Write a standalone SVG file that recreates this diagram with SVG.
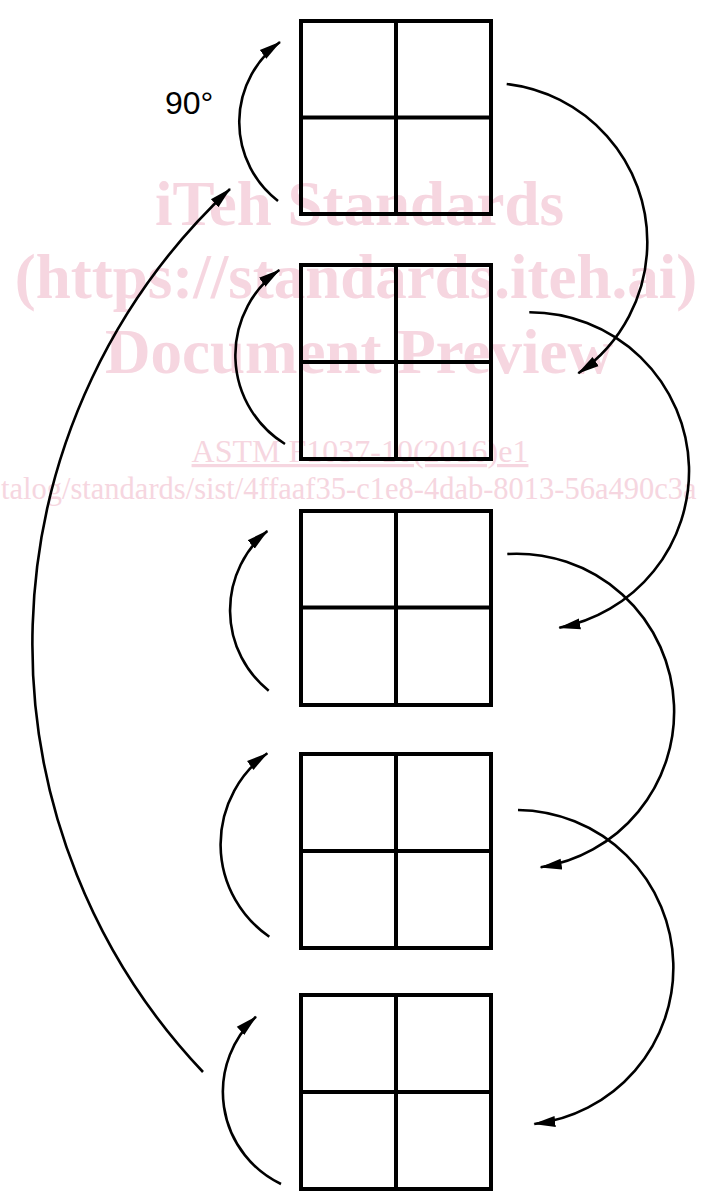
<svg xmlns="http://www.w3.org/2000/svg" width="703" height="1193" viewBox="0 0 703 1193">
<style>
.wm{fill:#f6d6e0;font-family:"Liberation Serif","Times New Roman",serif}
.wmb{font-weight:bold;font-size:63px}
.sq{fill:none;stroke:#000;stroke-width:4}
.cn{fill:none;stroke:#000;stroke-width:2.6}
.lbl{font-family:"Liberation Sans",Arial,sans-serif;font-size:32px;fill:#000}
</style>
<defs>
<marker id="ah" markerUnits="userSpaceOnUse" markerWidth="24" markerHeight="14" refX="21" refY="6" orient="auto" viewBox="0 0 24 12">
<path d="M0,0.5 L22,6 L0,11.5 z" fill="#000"/>
</marker>
</defs>
<rect width="703" height="1193" fill="#fff"/>
<g id="watermark">
<text class="wm wmb" x="359.5" y="225" text-anchor="middle">iTeh Standards</text>
<text class="wm wmb" x="356" y="298" text-anchor="middle">(https://standards.iteh.ai)</text>
<text class="wm wmb" x="359" y="373" text-anchor="middle">Document Preview</text>
<text class="wm" x="360" y="462" font-size="32" text-anchor="middle" text-decoration="underline">ASTM F1037-10(2016)e1</text>
<text class="wm" x="1" y="499" font-size="30.5">talog/standards/sist/4ffaaf35-c1e8-4dab-8013-56a490c3a</text>
</g>
<g id="sq1">
<rect class="sq" x="301" y="21" width="190" height="193"/>
<path class="sq" d="M396 21V214M301 117.5H491"/>
<text class="lbl" x="165" y="114">90°</text>
</g>
<g id="sq2">
<rect class="sq" x="301" y="265" width="190" height="194"/>
<path class="sq" d="M396 265V459M301 362H491"/>
</g>
<g id="sq3">
<rect class="sq" x="301" y="511" width="190" height="194"/>
<path class="sq" d="M396 511V705M301 607.5H491"/>
</g>
<g id="sq4">
<rect class="sq" x="301" y="754" width="190" height="194"/>
<path class="sq" d="M396 754V948M301 851H491"/>
</g>
<g id="sq5">
<rect class="sq" x="301" y="995" width="190" height="194"/>
<path class="sq" d="M396 995V1189M301 1092H491"/>
</g>
<g id="connectors">
<path class="cn" marker-end="url(#ah)" d="M278 201A99.4 99.4 0 0 1 280 42"/>
<path class="cn" marker-end="url(#ah)" d="M285 444A104.4 104.4 0 0 1 279.3 270"/>
<path class="cn" marker-end="url(#ah)" d="M268.7 690.7A103 103 0 0 1 267.3 531"/>
<path class="cn" marker-end="url(#ah)" d="M269.3 936.7A112 112 0 0 1 267.3 753.3"/>
<path class="cn" marker-end="url(#ah)" d="M281 1184A102 102 0 0 1 256 1016.7"/>
<path class="cn" marker-end="url(#ah)" d="M506.7 84A159 159 0 0 1 647.3 241.7A159 159 0 0 1 578.3 373.3"/>
<path class="cn" marker-end="url(#ah)" d="M529.3 312.3A159.5 159.5 0 0 1 689 466.7A159.5 159.5 0 0 1 559.3 627.7"/>
<path class="cn" marker-end="url(#ah)" d="M507.3 554A157.6 157.6 0 0 1 674 705A157.6 157.6 0 0 1 540.7 867.3"/>
<path class="cn" marker-end="url(#ah)" d="M518 810A157.5 157.5 0 0 1 673.3 963.3A157.5 157.5 0 0 1 534.3 1124"/>
<path class="cn" marker-end="url(#ah)" d="M203 1072A622.4 622.4 0 0 1 230 189"/>
</g>
</svg>
